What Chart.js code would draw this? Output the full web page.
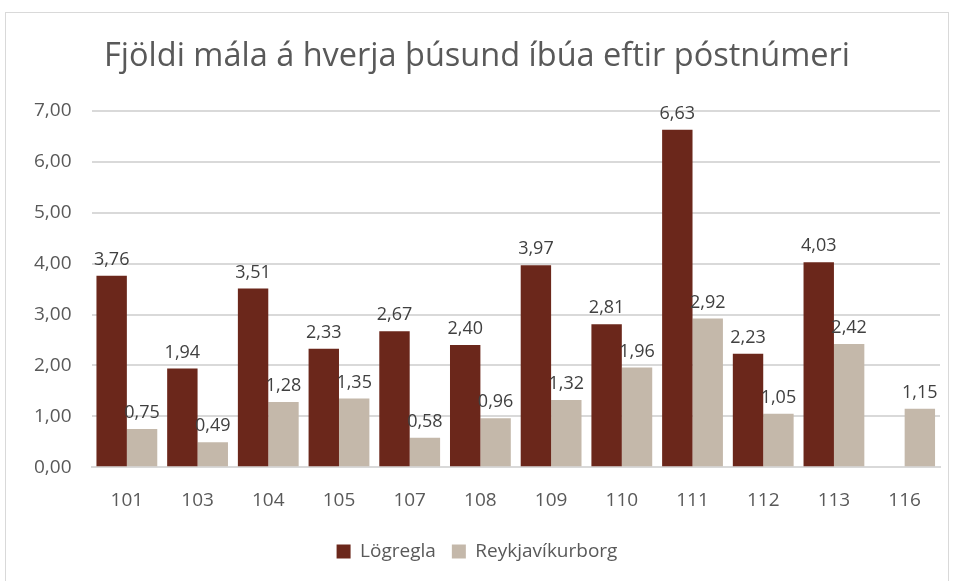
<!DOCTYPE html>
<html>
<head>
<meta charset="utf-8">
<script src="https://cdn.jsdelivr.net/npm/chart.js@4.4.1/dist/chart.umd.min.js"></script>
<style>
  body { margin: 0; background: #fff; }
  #wrap { position: absolute; left: 5px; top: 12px; width: 944px; height: 580px; border: 1px solid #d9d9d9; box-sizing: border-box; }
</style>
</head>
<body>
<div id="wrap"><canvas id="myChart"></canvas></div>
<script>
const categories = ['101', '103', '104', '105', '107', '108', '109', '110', '111', '112', '113', '116'];
const logregla = [3.76, 1.94, 3.51, 2.33, 2.67, 2.40, 3.97, 2.81, 6.63, 2.23, 4.03, null];
const reykjavik = [0.75, 0.49, 1.28, 1.35, 0.58, 0.96, 1.32, 1.96, 2.92, 1.05, 2.42, 1.15];
const yTicks = [0, 1, 2, 3, 4, 5, 6, 7];

const FONT = "'Open Sans', 'Noto Sans', sans-serif";
const fmt = v => v.toFixed(2).replace('.', ',');

// draw the value above each bar
const valueLabels = {
  id: 'valueLabels',
  afterDatasetsDraw(chart) {
    const c = chart.ctx;
    c.save();
    c.font = '18px ' + FONT;
    c.fillStyle = '#404040';
    c.textAlign = 'center';
    c.textBaseline = 'bottom';
    chart.data.datasets.forEach((ds, i) => {
      chart.getDatasetMeta(i).data.forEach((bar, j) => {
        const v = ds.data[j];
        if (v == null) return;
        c.fillText(fmt(v), bar.x, bar.y - 7);
      });
    });
    c.restore();
  }
};

const ctx = document.getElementById('myChart');
new Chart(ctx, {
  type: 'bar',
  data: {
    labels: categories,
    datasets: [{
      label: 'Lögregla',
      backgroundColor: '#6b271b',
      data: logregla
    }, {
      label: 'Reykjavíkurborg',
      backgroundColor: '#c4b8aa',
      data: reykjavik
    }]
  },
  options: {
    responsive: true,
    maintainAspectRatio: false,
    animation: false,
    categoryPercentage: 0.86,
    barPercentage: 1.0,
    layout: { padding: { left: 8, right: 8, top: 10, bottom: 20 } },
    plugins: {
      title: {
        display: true,
        text: 'Fjöldi mála á hverja þúsund íbúa eftir póstnúmeri',
        color: '#595959',
        font: { family: FONT, size: 32.5, weight: 'normal' },
        padding: { top: 14, bottom: 35 }
      },
      legend: {
        position: 'bottom',
        labels: {
          color: '#595959',
          font: { family: FONT, size: 19 },
          boxWidth: 14,
          boxHeight: 14,
          padding: 16
        }
      },
      tooltip: { enabled: false }
    },
    scales: {
      x: {
        grid: { display: false },
        border: { color: '#d9d9d9', width: 2 },
        ticks: { color: '#595959', font: { family: FONT, size: 19 }, padding: 14 }
      },
      y: {
        min: 0,
        max: 7,
        afterBuildTicks: axis => { axis.ticks = yTicks.map(v => ({ value: v })); },
        grid: { color: '#d9d9d9', lineWidth: 2, drawTicks: false },
        border: { display: false },
        ticks: {
          color: '#595959',
          font: { family: FONT, size: 19 },
          padding: 20,
          callback: v => fmt(v)
        }
      }
    }
  },
  plugins: [valueLabels]
});
</script>
</body>
</html>
